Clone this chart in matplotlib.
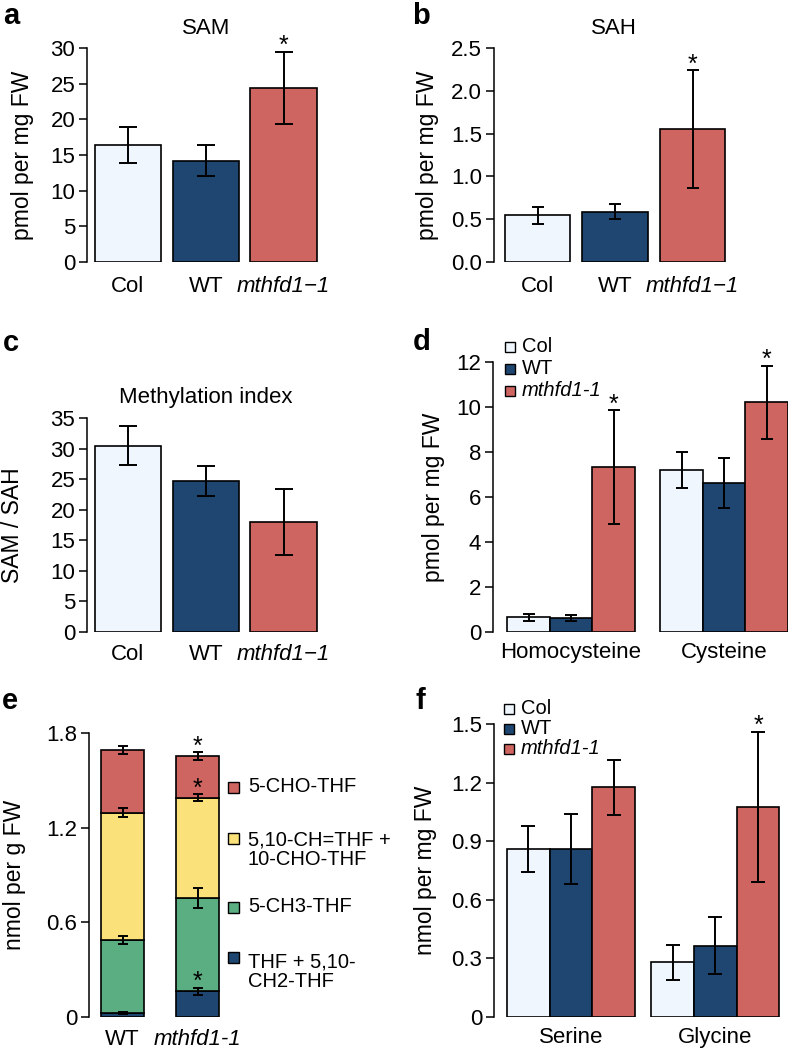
import matplotlib
matplotlib.use('Agg')
import matplotlib.pyplot as plt
from matplotlib.patches import Rectangle
import numpy as np

plt.rcParams['font.family'] = ['Liberation Sans', 'DejaVu Sans']

# ---------------- data ----------------
genotypes = ['Col', 'WT', 'mthfd1\u22121']
sam_mean = [16.4, 14.2, 24.4]
sam_err = [2.55, 2.2, 5.05]
sah_mean = [0.547, 0.586, 1.55]
sah_err = [0.10, 0.087, 0.69]
mi_mean = [30.5, 24.7, 18.0]
mi_err = [3.25, 2.4, 5.45]

legend_geno = ['Col', 'WT', 'mthfd1-1']
thiol_groups = ['Homocysteine', 'Cysteine']
thiol_mean = {'Col': [0.66, 7.21], 'WT': [0.62, 6.62], 'mthfd1-1': [7.33, 10.21]}
thiol_err = {'Col': [0.15, 0.80], 'WT': [0.15, 1.11], 'mthfd1-1': [2.52, 1.62]}

aa_groups = ['Serine', 'Glycine']
aa_mean = {'Col': [0.861, 0.280], 'WT': [0.858, 0.364], 'mthfd1-1': [1.175, 1.076]}
aa_err = {'Col': [0.119, 0.089], 'WT': [0.179, 0.146], 'mthfd1-1': [0.139, 0.385]}

folate_samples = ['WT', 'mthfd1-1']
folate_labels = ['THF + 5,10-\nCH2-THF', '5-CH3-THF', '5,10-CH=THF +\n10-CHO-THF', '5-CHO-THF']
folate_seg = {'WT': [0.027, 0.459, 0.808, 0.401], 'mthfd1-1': [0.163, 0.592, 0.634, 0.266]}
folate_err = {'WT': [0.005, 0.025, 0.028, 0.025], 'mthfd1-1': [0.022, 0.063, 0.023, 0.024]}
folate_sig = {'WT': [False, False, False, False], 'mthfd1-1': [True, False, True, True]}

# ---------------- style ----------------
C_COL = '#EFF6FD'
C_WT = '#1F4670'
C_MUT = '#CF6560'
geno_colors = [C_COL, C_WT, C_MUT]
folate_colors = ['#1F4670', '#5BAE82', '#FAE17A', '#CF6560']

FS = 16
FS_LAB = 16.5
FS_LEG = 14.5
FS_STAR = 18
W, H = 788, 1049
fig = plt.figure(figsize=(W / 100, H / 100), dpi=100)


def add_ax(x0, x1, ytop, ybot):
    return fig.add_axes([x0 / W, 1 - ybot / H, (x1 - x0) / W, (ybot - ytop) / H])


def style(ax, ymax, ticks, labels, xpad):
    for s in ['top', 'right', 'bottom']:
        ax.spines[s].set_visible(False)
    ax.spines['left'].set_linewidth(1.1)
    ax.set_ylim(0, ymax)
    ax.set_yticks(ticks)
    ax.set_yticklabels(labels)
    ax.tick_params(axis='y', direction='out', length=6, width=1.1, pad=2.5, labelsize=FS)
    ax.tick_params(axis='x', length=0, labelsize=FS, pad=xpad)
    ax.patch.set_visible(False)
    for t in ax.get_xticklabels():
        if 'mthfd' in t.get_text():
            t.set_fontstyle('italic')


def star(ax, x, y, off=0):
    ax.annotate('*', (x, y), xytext=(0, off), textcoords='offset points',
                ha='center', va='baseline', fontsize=FS_STAR, annotation_clip=False)


def three_bar(x0, x1, ytop, ybot, c0, s, bw, means, errs, ymax, ticks, tlabels, cap, sig, xpad):
    ax = add_ax(x0, x1, ytop, ybot)
    x = np.arange(len(means))
    ax.bar(x, means, width=bw, color=geno_colors, edgecolor='black', linewidth=1.2, zorder=2)
    ax.errorbar(x, means, yerr=errs, fmt='none', ecolor='black', elinewidth=1.4,
                capsize=cap, capthick=1.4, zorder=3)
    ax.set_xlim((x0 - c0) / s, (x1 - c0) / s)
    ax.set_xticks(x)
    ax.set_xticklabels(genotypes)
    style(ax, ymax, ticks, tlabels, xpad)
    for i, sg in enumerate(sig):
        if sg:
            star(ax, x[i], means[i] + errs[i], -1)
    return ax


# panel a
three_bar(87, 330, 48, 262, 128, 77.75, 0.85, sam_mean, sam_err, 30,
          [0, 5, 10, 15, 20, 25, 30], ['0', '5', '10', '15', '20', '25', '30'],
          6.5, [False, False, True], 10)
# panel b
three_bar(494, 735, 48, 262, 537.5, 77.5, 0.84, sah_mean, sah_err, 2.5,
          [0, 0.5, 1.0, 1.5, 2.0, 2.5], ['0.0', '0.5', '1.0', '1.5', '2.0', '2.5'],
          4.5, [False, False, True], 10)
# panel c
three_bar(87, 330, 418, 632, 128, 77.75, 0.85, mi_mean, mi_err, 35,
          [0, 5, 10, 15, 20, 25, 30, 35], ['0', '5', '10', '15', '20', '25', '30', '35'],
          6.5, [False, False, False], 9)


def grouped(x0, x1, ytop, ybot, cmid, bwpx, gsp, groups, means, errs, ymax, ticks, tlabels, cap, sig, xpad):
    ax = add_ax(x0, x1, ytop, ybot)
    gx = np.arange(len(groups)) * gsp
    for k, g in enumerate(legend_geno):
        xs = gx + (k - 1)
        ax.bar(xs, means[g], width=1.0, color=geno_colors[k], edgecolor='black', linewidth=1.2, zorder=2)
        ax.errorbar(xs, means[g], yerr=errs[g], fmt='none', ecolor='black', elinewidth=1.4,
                    capsize=cap, capthick=1.4, zorder=3)
        for i in range(len(groups)):
            if sig[g][i]:
                star(ax, xs[i], means[g][i] + errs[g][i], -1)
    ax.set_xlim((x0 - cmid) / bwpx, (x1 - cmid) / bwpx)
    ax.set_xticks(gx)
    ax.set_xticklabels(groups)
    style(ax, ymax, ticks, tlabels, xpad)
    return ax


sig_d = {'Col': [False, False], 'WT': [False, False], 'mthfd1-1': [True, True]}
grouped(493, 790, 362, 632, 571, 42.5, 3.6, thiol_groups, thiol_mean, thiol_err, 12,
        [0, 2, 4, 6, 8, 10, 12], ['0', '2', '4', '6', '8', '10', '12'], 4.3, sig_d, 7)
sig_f = {'Col': [False, False], 'WT': [False, False], 'mthfd1-1': [False, True]}
grouped(494, 790, 724, 1017, 571, 42.7, 3.38, aa_groups, aa_mean, aa_err, 1.5,
        [0, 0.3, 0.6, 0.9, 1.2, 1.5], ['0', '0.3', '0.6', '0.9', '1.2', '1.5'], 5, sig_f, 7)

# panel e (stacked)
axe = add_ax(89, 245, 733, 1017)
for j, smp in enumerate(folate_samples):
    bottom = 0.0
    for k in range(len(folate_labels)):
        seg = folate_seg[smp][k]
        axe.bar(j, seg, bottom=bottom, width=0.573, color=folate_colors[k],
                edgecolor='black', linewidth=1.2, zorder=2)
        top = bottom + seg
        axe.errorbar(j, top, yerr=folate_err[smp][k], fmt='none', ecolor='black',
                     elinewidth=1.4, capsize=3.6, capthick=1.4, zorder=3)
        if folate_sig[smp][k]:
            star(axe, j, top + folate_err[smp][k], -1)
        bottom = top
axe.set_xlim((89 - 122.5) / 75, (245 - 122.5) / 75)
axe.set_xticks(range(len(folate_samples)))
axe.set_xticklabels(folate_samples)
style(axe, 1.8, [0, 0.6, 1.2, 1.8], ['0', '0.6', '1.2', '1.8'], 8.5)

# ---------------- overlay: titles, labels, legends ----------------
ov = fig.add_axes([0, 0, 1, 1])
ov.set_xlim(0, W)
ov.set_ylim(H, 0)
ov.axis('off')

for letter, (lx, ly) in zip('abcdef', [(11, 16), (421, 16), (11, 343), (422, 342), (10, 701), (420, 701)]):
    ov.text(lx, ly, letter, fontsize=21, fontweight='bold', ha='center', va='center')

ov.text(206, 28, 'SAM', fontsize=FS, ha='center', va='center')
ov.text(614, 28, 'SAH', fontsize=FS, ha='center', va='center')
ov.text(206, 398, 'Methylation index', fontsize=FS, ha='center', va='center')

for (lx, ly, txt) in [(23, 155, 'pmol per mg FW'), (428, 155, 'pmol per mg FW'),
                      (13, 525, 'SAM / SAH'), (434, 497, 'pmol per mg FW'),
                      (15, 875, 'nmol per g FW'), (426, 870, 'nmol per mg FW')]:
    ov.text(lx, ly, txt, fontsize=FS_LAB, rotation=90, ha='center', va='center')

# legend d and f
for (sx, tys) in [(505, [347, 369, 391]), (504, [709, 729, 749])]:
    for k, g in enumerate(legend_geno):
        ov.add_patch(Rectangle((sx, tys[k] - 5), 10, 10, facecolor=geno_colors[k],
                               edgecolor='black', linewidth=1.0))
        ov.text(sx + 17, tys[k], g, fontsize=FS_LEG, ha='left', va='center',
                fontstyle='italic' if 'mthfd' in g else 'normal')

# legend e
sq_y = [957, 907, 838, 787]
txt_y = [972, 907, 850, 787]
for k in range(len(folate_labels)):
    ov.add_patch(Rectangle((228, sq_y[k] - 5.5), 11, 11, facecolor=folate_colors[k],
                           edgecolor='black', linewidth=1.0))
    ov.text(248, txt_y[k], folate_labels[k], fontsize=FS_LEG, ha='left', va='center',
            linespacing=1.0)

fig.savefig('out.png', dpi=100)
